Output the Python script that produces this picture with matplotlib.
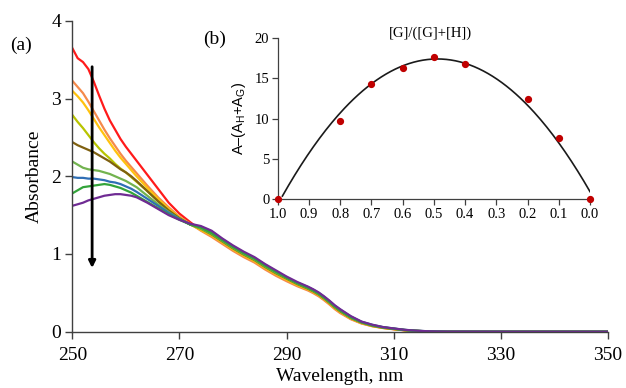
import numpy as np
import matplotlib
matplotlib.use("Agg")
import matplotlib.pyplot as plt

plt.rcParams['font.family'] = ['Liberation Serif', 'DejaVu Serif']
plt.rcParams['mathtext.fontset'] = 'custom'
plt.rcParams['mathtext.rm'] = 'Liberation Sans'
plt.rcParams['mathtext.it'] = 'Liberation Sans'

# ---------------- main spectra data ----------------
wavelength = [250, 251, 252, 253, 254, 255, 256, 257, 258, 259, 260, 261, 262, 264, 266, 268, 270, 272,
              274, 276, 278, 280, 282, 284, 286, 288, 290, 292, 294, 295, 296, 297, 298, 299, 300,
              302, 304, 306, 308, 310, 312, 314, 316, 318, 320, 335, 350]

abs_red = [3.65, 3.52, 3.47, 3.38, 3.22, 3.04, 2.87, 2.72, 2.60, 2.48, 2.38, 2.29, 2.20, 2.02, 1.84, 1.66, 1.52, 1.41,
           1.31, 1.235, 1.145, 1.055, 0.975, 0.905, 0.815, 0.735, 0.665, 0.595, 0.54, 0.505, 0.465, 0.415, 0.36, 0.30, 0.25,
           0.167, 0.11, 0.073, 0.049, 0.033, 0.019, 0.01, 0.004, 0.001, 0, 0, 0]
abs_orange = [3.23, 3.15, 3.07, 2.96, 2.84, 2.72, 2.60, 2.49, 2.39, 2.29, 2.20, 2.12, 2.04, 1.88, 1.73, 1.60, 1.48, 1.39,
              1.30, 1.22, 1.13, 1.04, 0.96, 0.89, 0.80, 0.72, 0.65, 0.585, 0.53, 0.495, 0.455, 0.405, 0.35, 0.29, 0.24,
              0.16, 0.105, 0.07, 0.047, 0.031, 0.018, 0.009, 0.004, 0.001, 0, 0, 0]
abs_gold = [3.10, 3.03, 2.95, 2.85, 2.74, 2.63, 2.53, 2.43, 2.33, 2.24, 2.16, 2.08, 2.00, 1.85, 1.71, 1.58, 1.47, 1.38,
            1.31, 1.24, 1.15, 1.06, 0.98, 0.91, 0.82, 0.74, 0.67, 0.60, 0.545, 0.51, 0.47, 0.42, 0.365, 0.305, 0.255,
            0.17, 0.112, 0.074, 0.05, 0.034, 0.019, 0.01, 0.005, 0.001, 0, 0, 0]
abs_ygreen = [2.79, 2.70, 2.62, 2.53, 2.44, 2.36, 2.29, 2.23, 2.16, 2.10, 2.05, 1.99, 1.93, 1.81, 1.68, 1.56, 1.46, 1.38,
              1.32, 1.25, 1.16, 1.07, 0.99, 0.92, 0.83, 0.75, 0.68, 0.61, 0.55, 0.515, 0.475, 0.425, 0.37, 0.31, 0.26,
              0.174, 0.115, 0.076, 0.052, 0.035, 0.02, 0.011, 0.005, 0.002, 0, 0, 0]
abs_brown = [2.44, 2.40, 2.37, 2.34, 2.31, 2.27, 2.23, 2.19, 2.14, 2.09, 2.05, 2.00, 1.94, 1.81, 1.68, 1.56, 1.46, 1.38,
             1.33, 1.255, 1.165, 1.075, 0.995, 0.925, 0.835, 0.755, 0.685, 0.615, 0.555, 0.52, 0.48, 0.43, 0.375, 0.315, 0.265,
             0.177, 0.118, 0.078, 0.053, 0.036, 0.021, 0.011, 0.005, 0.002, 0, 0, 0]
abs_lgreen = [2.19, 2.15, 2.11, 2.09, 2.08, 2.07, 2.05, 2.03, 2.00, 1.97, 1.94, 1.90, 1.86, 1.75, 1.64, 1.54, 1.45, 1.38,
              1.33, 1.26, 1.17, 1.08, 1.00, 0.93, 0.84, 0.76, 0.69, 0.62, 0.56, 0.525, 0.485, 0.435, 0.38, 0.32, 0.27,
              0.18, 0.12, 0.08, 0.055, 0.038, 0.022, 0.012, 0.006, 0.002, 0, 0, 0]
abs_blue = [1.99, 1.98, 1.98, 1.97, 1.97, 1.96, 1.95, 1.93, 1.92, 1.90, 1.87, 1.84, 1.80, 1.71, 1.62, 1.53, 1.45, 1.38,
            1.35, 1.29, 1.19, 1.10, 1.02, 0.95, 0.86, 0.78, 0.70, 0.63, 0.575, 0.54, 0.50, 0.45, 0.395, 0.335, 0.285,
            0.195, 0.128, 0.088, 0.059, 0.041, 0.024, 0.013, 0.007, 0.003, 0.001, 0, 0]
abs_green = [1.78, 1.82, 1.86, 1.87, 1.88, 1.89, 1.90, 1.89, 1.87, 1.85, 1.82, 1.79, 1.75, 1.67, 1.59, 1.51, 1.44, 1.38,
             1.34, 1.27, 1.18, 1.09, 1.01, 0.94, 0.85, 0.77, 0.695, 0.625, 0.565, 0.53, 0.49, 0.44, 0.385, 0.325, 0.275,
             0.185, 0.123, 0.083, 0.056, 0.039, 0.023, 0.012, 0.006, 0.002, 0, 0, 0]
abs_purple = [1.62, 1.64, 1.66, 1.69, 1.71, 1.73, 1.75, 1.76, 1.77, 1.77, 1.76, 1.75, 1.73, 1.66, 1.58, 1.50, 1.44, 1.39,
              1.36, 1.30, 1.20, 1.11, 1.03, 0.96, 0.87, 0.79, 0.71, 0.64, 0.58, 0.545, 0.505, 0.455, 0.40, 0.34, 0.29,
              0.20, 0.13, 0.09, 0.06, 0.042, 0.025, 0.014, 0.007, 0.003, 0.001, 0, 0]

series = [abs_red, abs_orange, abs_gold, abs_ygreen, abs_brown, abs_lgreen, abs_blue, abs_green, abs_purple]
colors = ['#ff1a1a', '#f58a4b', '#ffc20e', '#b8c400', '#7f6010', '#72b34f', '#2f6fb5', '#33a43a', '#6f2b93']

# arrow (titration direction)
arrow_x = 253.7
arrow_y_start = 3.41
arrow_y_end = 0.82

# ---------------- inset (Job plot) data ----------------
mole_fraction = [1.0, 0.8, 0.7, 0.6, 0.5, 0.4, 0.2, 0.1, 0.0]
delta_abs = [0.0, 9.7, 14.3, 16.2, 17.6, 16.8, 12.4, 7.6, 0.0]
inset_xticks = [1.0, 0.9, 0.8, 0.7, 0.6, 0.5, 0.4, 0.3, 0.2, 0.1, 0.0]
inset_yticks = [0, 5, 10, 15, 20]

W, H = 626, 388
fig = plt.figure(figsize=(W / 100, H / 100), dpi=100)

ax = fig.add_axes([72.3 / W, 1 - 331.7 / H, (608 - 72.3) / W, (331.7 - 20.9) / H])
for s, c in zip(series, colors):
    ax.plot(wavelength, s, color=c, lw=1.6, solid_joinstyle='round')
ax.set_xlim(250, 350)
ax.set_ylim(0, 4)
ax.set_xticks([250, 270, 290, 310, 330, 350])
ax.set_yticks([0, 1, 2, 3, 4])
for sp in ['top', 'right']:
    ax.spines[sp].set_visible(False)
for sp in ['left', 'bottom']:
    ax.spines[sp].set_color('#404040')
    ax.spines[sp].set_linewidth(1.0)
ax.tick_params(direction='out', length=5, width=1.0, color='#404040', labelsize=14, pad=3)
ax.tick_params(axis='x', pad=6)
ax.set_xlabel('Wavelength, nm', fontsize=14, labelpad=3)
ax.set_ylabel('Absorbance', fontsize=14, labelpad=6)

ax.annotate('', xy=(arrow_x, arrow_y_end), xytext=(arrow_x, arrow_y_start),
            arrowprops=dict(arrowstyle='-|>', color='black', lw=2.0, mutation_scale=10,
                            shrinkA=0, shrinkB=0))

fig.text(10 / W, 1 - 45 / H, '(a)', fontsize=14, va='center', ha='left')
fig.text(203 / W, 1 - 39 / H, '(b)', fontsize=14, va='center', ha='left')

# ---------------- inset ----------------
ins = fig.add_axes([277.7 / W, 1 - 199.3 / H, (590 - 277.7) / W, (199.3 - 37.7) / H])
coef = np.polyfit(mole_fraction, delta_abs, 2)
xfit = np.linspace(0.985, 0.0, 200)
ins.plot(xfit, np.polyval(coef, xfit), color='#1a1a1a', lw=1.2)
ins.plot(mole_fraction, delta_abs, 'o', color='#c00000', ms=4.2, clip_on=False, zorder=5)
ins.set_xlim(1.0, 0.0)
ins.set_ylim(0, 20)
ins.set_xticks(inset_xticks)
ins.set_xticklabels([f'{v:.1f}' for v in inset_xticks])
ins.set_yticks(inset_yticks)
ins.patch.set_alpha(0)
for sp in ['top', 'right']:
    ins.spines[sp].set_visible(False)
for sp in ['left', 'bottom']:
    ins.spines[sp].set_color('#404040')
    ins.spines[sp].set_linewidth(0.9)
ins.tick_params(direction='out', length=4, width=0.9, color='#404040', labelsize=10.5, pad=2)
ins.set_ylabel(r'A–(A$_\mathregular{H}$+A$_\mathregular{G}$)', fontsize=10.5, labelpad=5,
               family=['Liberation Sans', 'DejaVu Sans'])
fig.text(430 / W, 1 - 33 / H, '[G]/([G]+[H])', fontsize=10.5, ha='center', va='center')

fig.savefig('out.png', dpi=100)
